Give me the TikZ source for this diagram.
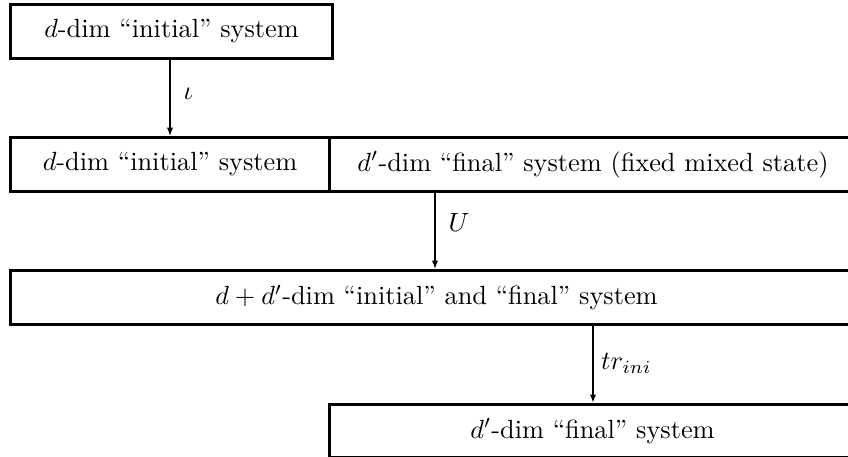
\documentclass[tikz,border=0pt]{standalone}
\usetikzlibrary{arrows.meta}
\begin{document}
\begin{tikzpicture}[x=0.38pt,y=-0.38pt,
  box/.style={draw,line width=1.14pt,rectangle,inner sep=0pt,anchor=north west},
  conn/.style={line width=0.5pt,-{Latex[length=3.2pt,width=2.4pt]}},
  lab/.style={right,inner sep=0pt,font=\normalsize}]
\useasboundingbox (0,0) rectangle (848,457);
% boxes
\node[box,minimum width=322*0.38pt,minimum height=54*0.38pt] (b1) at (9,3) {$d$-dim ``initial'' system};
\node[box,minimum width=319*0.38pt,minimum height=54*0.38pt] (r2l) at (9,136) {$d$-dim ``initial'' system};
\node[box,minimum width=527*0.38pt,minimum height=54*0.38pt] (r2r) at (328,136) {$d'$-dim ``final'' system (fixed mixed state)};
\node[box,minimum width=852*0.38pt,minimum height=54*0.38pt] (b3) at (9,269) {$d+d'$-dim ``initial'' and ``final'' system};
\node[box,minimum width=526*0.38pt,minimum height=53*0.38pt] (b4) at (328,403) {$d'$-dim ``final'' system};
% connectors
\coordinate (a1s) at (170,57);
\coordinate (a2s) at (435,190);
\coordinate (a3s) at (593,323);
\draw[conn] (a1s) -- (a1s |- r2l.north) node[lab,midway,xshift=13*0.38pt,yshift=1pt] {$\iota$};
\draw[conn] (a2s) -- (a2s |- b3.north) node[lab,midway,xshift=13*0.38pt,yshift=2.5pt] {$U$};
\draw[conn,line width=0.8pt] (a3s) -- (a3s |- b4.north) node[lab,midway,xshift=7*0.38pt] {$tr_{ini}$};
\end{tikzpicture}
\end{document}
